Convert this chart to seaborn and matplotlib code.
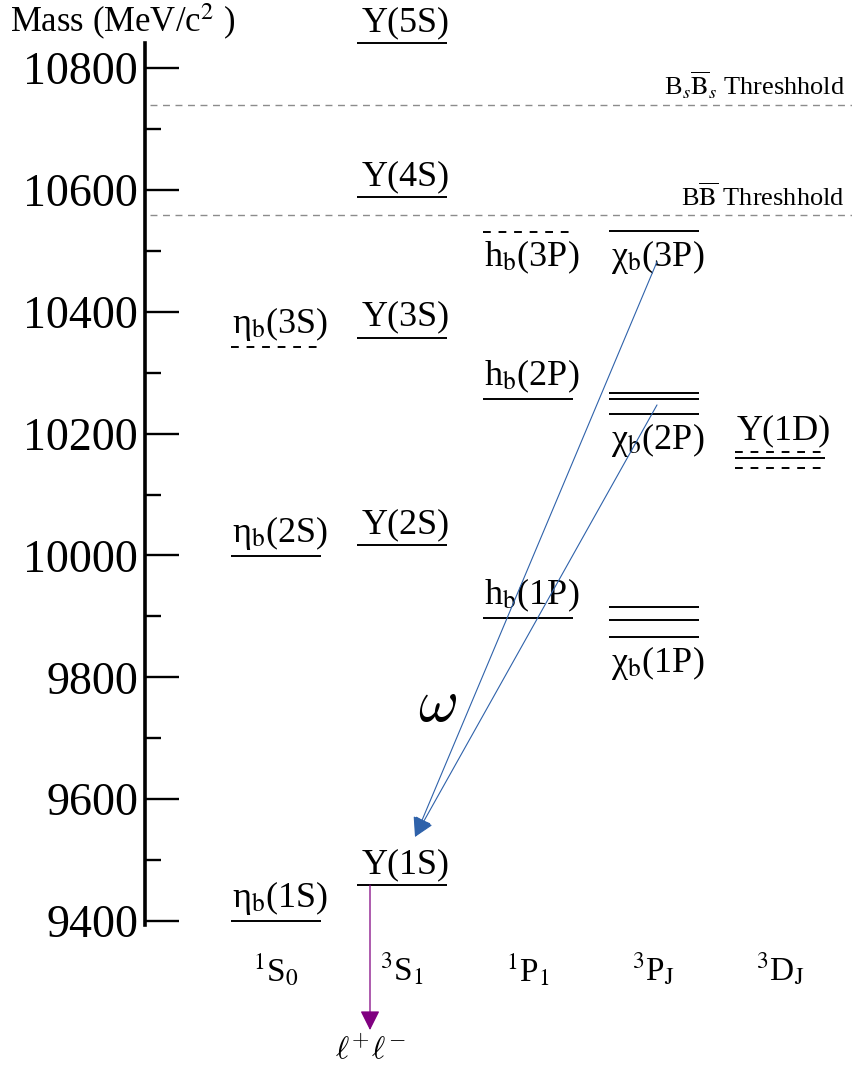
import matplotlib
matplotlib.use("Agg")
import matplotlib.pyplot as plt
import seaborn as sns

# ---- spectroscopic columns -------------------------------------------------
columns = ["$^{1}$S$_{0}$", "$^{3}$S$_{1}$", "$^{1}$P$_{1}$", r"$^{3}$P$_{\mathrm{J}}$", r"$^{3}$D$_{\mathrm{J}}$"]

# ---- bottomonium states (MeV/c^2) -----------------------------------------
state_names = ["Υ(5S)", "Υ(4S)", "Υ(3S)", "Υ(2S)", "Υ(1S)",
               r"η$_\mathrm{b}$(3S)", r"η$_\mathrm{b}$(2S)", r"η$_\mathrm{b}$(1S)",
               r"h$_\mathrm{b}$(3P)", r"h$_\mathrm{b}$(2P)", r"h$_\mathrm{b}$(1P)",
               r"χ$_\mathrm{b}$(3P)", r"χ$_\mathrm{b}$(2P)", r"χ$_\mathrm{b}$(1P)",
               "Υ(1D)"]
state_column = [1, 1, 1, 1, 1, 0, 0, 0, 2, 2, 2, 3, 3, 3, 4]
state_masses = [[10841], [10588], [10357], [10017], [9459],
                [10342], [9999], [9400],
                [10531], [10257], [9897],
                [10532], [10267, 10257, 10232], [9915, 9894, 9866],
                [10170, 10160, 10143]]
state_observed = [[True], [True], [True], [True], [True],
                  [False], [True], [True],
                  [False], [True], [True],
                  [True], [True, True, True], [True, True, True],
                  [False, True, False]]
label_below = [False, False, False, False, False,
               False, False, False,
               True, False, False,
               True, True, True,
               False]

# ---- open-flavour thresholds ----------------------------------------------
threshold_names = [r"B$_s\overline{\mathrm{B}}_s$ Threshhold", r"B$\overline{\mathrm{B}}$ Threshhold"]
threshold_masses = [10739, 10559]

# ---- transitions -----------------------------------------------------------
omega_from_mass = [10482, 10247]
omega_to_mass = 9538
dilepton_from_mass = 9459
dilepton_to_mass = 9221

yticks_major = [9400, 9600, 9800, 10000, 10200, 10400, 10600, 10800]
yticks_minor = [9500, 9700, 9900, 10100, 10300, 10500, 10700]

# ---- figure ------------------------------------------------------------------
sns.set_theme(style="white")
plt.rcParams["font.family"] = ["Liberation Serif", "DejaVu Serif"]
plt.rcParams["mathtext.fontset"] = "stix"
plt.rcParams["text.color"] = "black"
plt.rcParams["ytick.color"] = "black"
plt.rcParams["ytick.labelcolor"] = "black"

W, H = 852, 1072
fig = plt.figure(figsize=(W / 100, H / 100), dpi=100)
ax = fig.add_axes([0, 0, 1, 1])
ax.set_facecolor("white")

# 126 px per column, 0.6093 px per MeV
px_col = 126.0
px_mev = 0.60929
ax.set_xlim(-276 / px_col, (W - 276) / px_col)
ax.set_ylim(10800 - (H - 68) / px_mev, 10800 + 68 / px_mev)

sns.despine(ax=ax, left=False, bottom=True)
ax.spines["left"].set_position(("data", -131 / px_col))
ax.spines["left"].set_bounds(9393, 10841)
ax.spines["left"].set_linewidth(2.6)
ax.spines["left"].set_color("black")
ax.set_xticks([])
ax.set_yticks(yticks_major)
ax.set_yticks(yticks_minor, minor=True)
ax.set_yticklabels([str(t) for t in yticks_major])
ax.tick_params(axis="y", which="major", direction="in", length=24.5, width=1.7,
               color="black", labelcolor="black", labelsize=33, pad=5, left=True)
ax.tick_params(axis="y", which="minor", direction="in", length=11.5, width=1.7,
               color="black", left=True)
ax.grid(False)

fig.text(10 / W, 1 - 22 / H, "Mass (MeV/c$^{2}$ )", fontsize=25, ha="left", va="center")

# thresholds
for name, m in zip(threshold_names, threshold_masses):
    ax.plot([-126 / px_col, (W - 276) / px_col], [m, m], color="#8c8c8c", lw=1.0,
            ls=(0, (5, 4)), zorder=1)
    ax.annotate(name, xy=((845 - 276) / px_col, m), xytext=(0, 3), textcoords="offset points",
                ha="right", va="bottom", fontsize=19)

# levels
half = 0.357
for name, col, masses, obs, below in zip(state_names, state_column, state_masses,
                                         state_observed, label_below):
    for m, o in zip(masses, obs):
        ax.hlines(m, col - half, col + half, colors="black", lw=1.4,
                  linestyles="solid" if o else (0, (4, 4)))
    if below:
        ax.annotate(name, xy=(col + 0.03, min(masses)), xytext=(0, -5), textcoords="offset points",
                    ha="center", va="top", fontsize=26)
    else:
        ax.annotate(name, xy=(col + 0.03, max(masses)), xytext=(0, 3), textcoords="offset points",
                    ha="center", va="bottom", fontsize=26)

# column labels
for i, c in enumerate(columns):
    ax.text(i + 0.0, 9320, c, ha="center", va="center", fontsize=24)

# omega transitions to Y(1S)
blue = "#2f62aa"
end_x = (415 - 276) / px_col
for m in omega_from_mass:
    ax.annotate("", xy=(end_x, omega_to_mass), xytext=((657 - 276) / px_col, m),
                arrowprops=dict(arrowstyle="-|>,head_length=0.8,head_width=0.4",
                                color=blue, lw=0.8, mutation_scale=15,
                                shrinkA=0, shrinkB=0))
ax.text((437 - 276) / px_col, 9752, r"$\omega$", fontsize=44, ha="center", va="center",
        math_fontfamily="cm")

# dilepton decay
purple = "#800080"
lx = (370 - 276) / px_col
ax.annotate("", xy=(lx, dilepton_to_mass), xytext=(lx, dilepton_from_mass),
            arrowprops=dict(arrowstyle="-|>,head_length=0.8,head_width=0.4",
                            color=purple, lw=0.9, mutation_scale=15,
                            shrinkA=0, shrinkB=0))
ax.text(lx, 9186, r"$\ell^{+}\ell^{-}$", fontsize=23, ha="center", va="center",
        math_fontfamily="cm")

fig.savefig("out.png", dpi=100)
